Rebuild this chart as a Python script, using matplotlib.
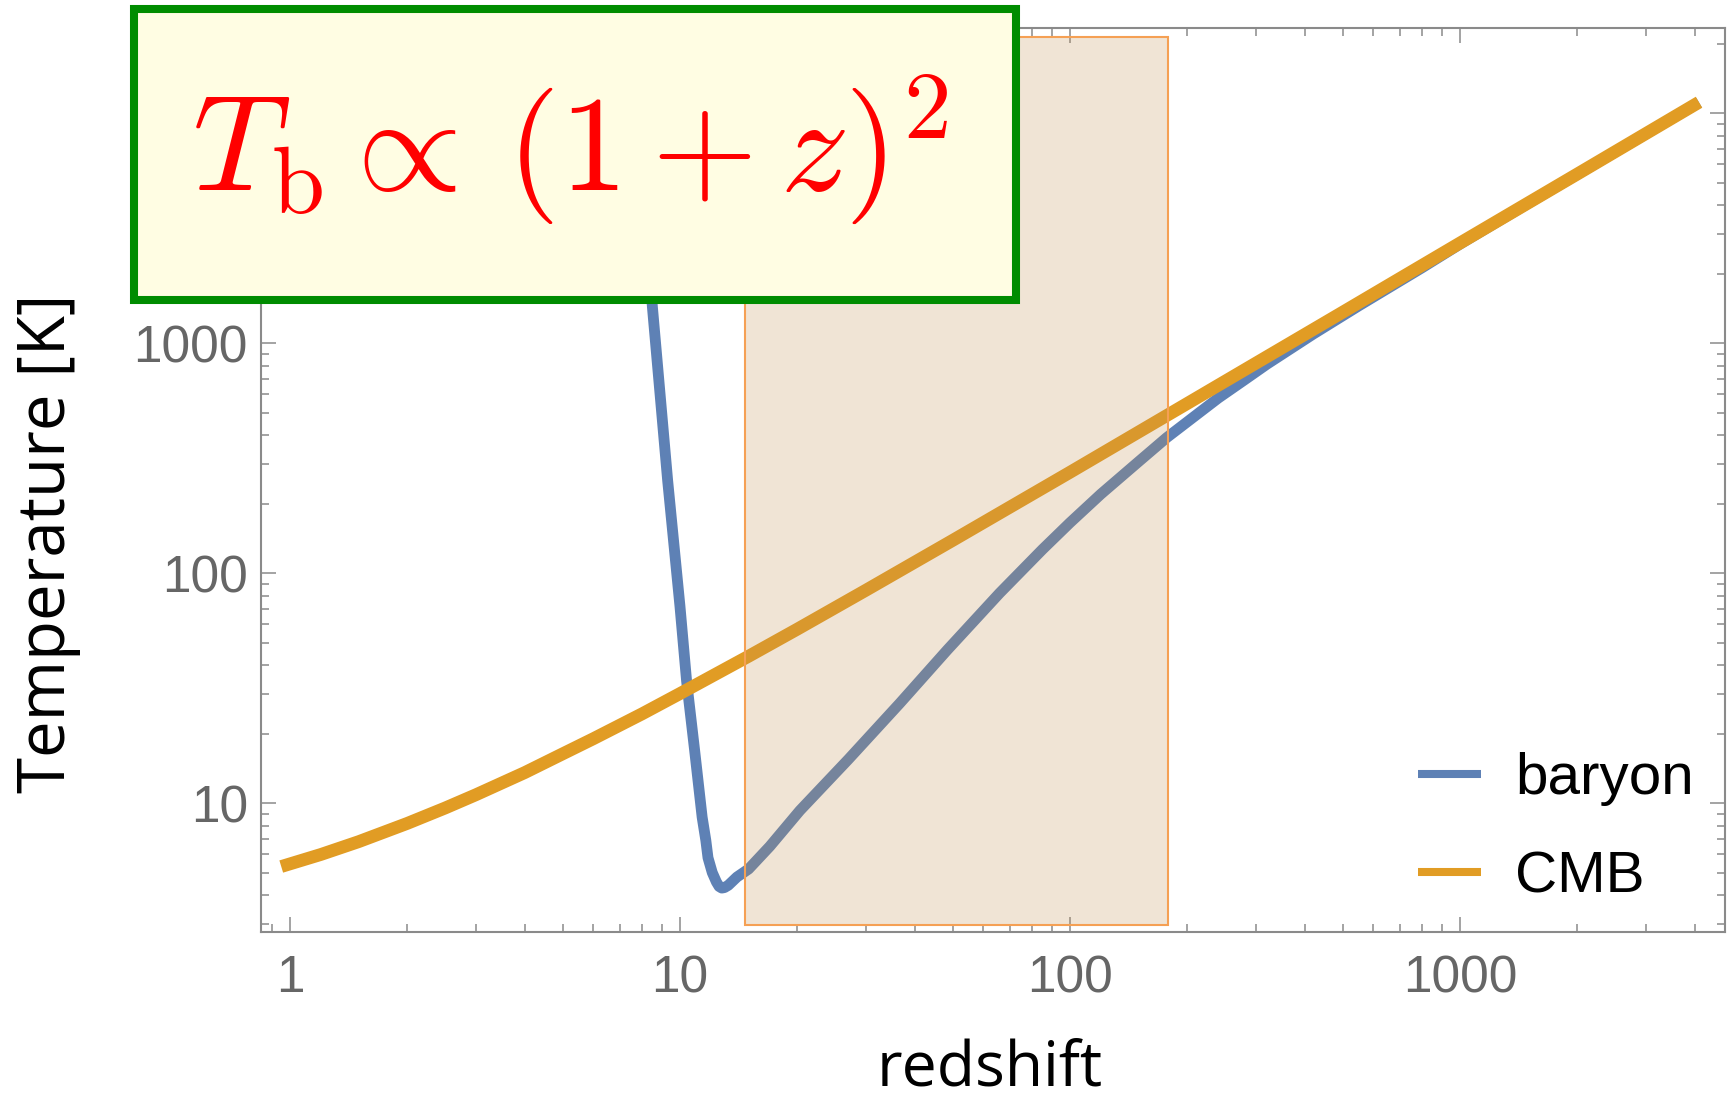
import numpy as np
import matplotlib
matplotlib.use('Agg')
import matplotlib.pyplot as plt
from matplotlib.patches import Rectangle
from matplotlib.colors import to_rgba

plt.rcParams['mathtext.fontset'] = 'cm'

# ── data (redshift z, temperature in K) ──────────────────────────────────────
cmb_z = [0.95, 1.2, 1.5, 2, 2.5, 3, 4, 5, 6, 8, 10, 15, 20, 30, 50, 100, 200,
         500, 1000, 2000, 4100]
cmb_T = [5.31, 5.99, 6.81, 8.18, 9.54, 10.9, 13.6, 16.4, 19.1, 24.5, 30.0,
         43.6, 57.2, 84.5, 139, 275, 548, 1365, 2730, 5450, 11175]

baryon_z = [7.4, 8.1, 8.5, 9.3, 10.0, 10.4, 10.9, 11.4, 11.65, 11.8, 12.1,
            12.4, 12.6, 12.8, 13.0, 13.3, 14.0, 15.0, 17, 20.3, 27, 36.6,
            48.5, 66, 85, 100, 120, 150, 177, 240, 280, 320, 420, 550, 800,
            1000, 1500, 4100]
baryon_T = [23000, 4200, 1435, 253, 72, 34, 17.1, 8.7, 6.9, 5.8, 5.0,
            4.55, 4.35, 4.28, 4.3, 4.4, 4.78, 5.18, 6.5, 9.3, 15.5, 27.2,
            46.5, 82, 127, 166, 221, 306, 389, 578, 693, 812, 1096, 1455,
            2133, 2700, 4070, 11150]

# shaded window (z range, T range)
win_z = [14.7, 178]
win_T = [2.97, 21500]

x_ticks = [1, 10, 100, 1000]
x_ticklabels = ['1', '10', '100', '1000']
y_ticks = [10, 100, 1000, 10000]
y_ticklabels = ['10', '100', '1000', '']

BLUE = '#5e81b5'
ORANGE = '#e19c24'
FRAME = '#8a8a8a'

W, H = 1735, 1102
fig = plt.figure(figsize=(W / 100, H / 100), dpi=100)
ax = fig.add_axes([261 / W, 1 - 932 / H, (1725 - 261) / W, (932 - 28) / H])

ax.plot(baryon_z, baryon_T, color=BLUE, lw=7.8, solid_capstyle='butt',
        solid_joinstyle='round', label='baryon', zorder=2)
ax.plot(cmb_z, cmb_T, color=ORANGE, lw=9.2, solid_capstyle='butt',
        solid_joinstyle='round', label='CMB', zorder=2.1)

ax.set_xscale('log')
ax.set_yscale('log')
ax.set_xlim(0.843, 4780)
ax.set_ylim(2.757, 23500)

# translucent window over the curves
ax.add_patch(Rectangle((win_z[0], win_T[0]), win_z[1] - win_z[0],
                       win_T[1] - win_T[0],
                       facecolor=to_rgba('#c28e4d', 0.23),
                       edgecolor='#f5a054', lw=1.5, zorder=3))

for sp in ax.spines.values():
    sp.set_color(FRAME)
    sp.set_linewidth(1.5)
ax.tick_params(which='both', direction='in', top=True, right=True,
               color=FRAME, width=1.1)
ax.tick_params(which='major', length=10.8, labelsize=37,
               labelcolor='#666666')
ax.tick_params(which='minor', length=5.5)
ax.tick_params(axis='x', which='major', pad=16)
ax.tick_params(axis='y', which='major', pad=9.5)
ax.set_xticks(x_ticks)
ax.set_xticklabels(x_ticklabels, family='Liberation Sans')
ax.set_yticks(y_ticks)
ax.set_yticklabels(y_ticklabels, family='Liberation Sans')

ax.set_xlabel('redshift', family='Open Sans', fontsize=45, color='black',
              ha='center', va='baseline')
ax.xaxis.set_label_coords(0.498, (932 - 1086) / 904)
ax.set_ylabel('Temperature [K]', family='Open Sans', fontsize=47,
              color='black', ha='center', va='baseline')
ax.yaxis.set_label_coords((65 - 261) / 1464, (932 - 543.5) / 904)

leg = ax.legend(loc='center left', bbox_to_anchor=(1418 / W, 1 - 828.5 / H),
                bbox_transform=fig.transFigure, frameon=False,
                prop={'family': 'Liberation Sans', 'size': 42},
                handlelength=1.08, handletextpad=0.58, labelspacing=0.76,
                borderpad=0, borderaxespad=0)
for ln in leg.get_lines():
    ln.set_linewidth(5.8)

# formula card on top of the figure
fig.add_artist(Rectangle((133.5 / W, 1 - 300 / H), (1016 - 133.5) / W,
                         (300 - 8.5) / H, transform=fig.transFigure,
                         facecolor='#fffde3', edgecolor='#008c00', lw=5.8,
                         zorder=5))
fig.text(192 / W, 1 - 190 / H, r'$T_{\mathrm{b}} \propto\,(1+z)^2$',
         fontsize=98, color='#ff0000', ha='left', va='baseline', zorder=6)

fig.savefig('out.png', dpi=100)
